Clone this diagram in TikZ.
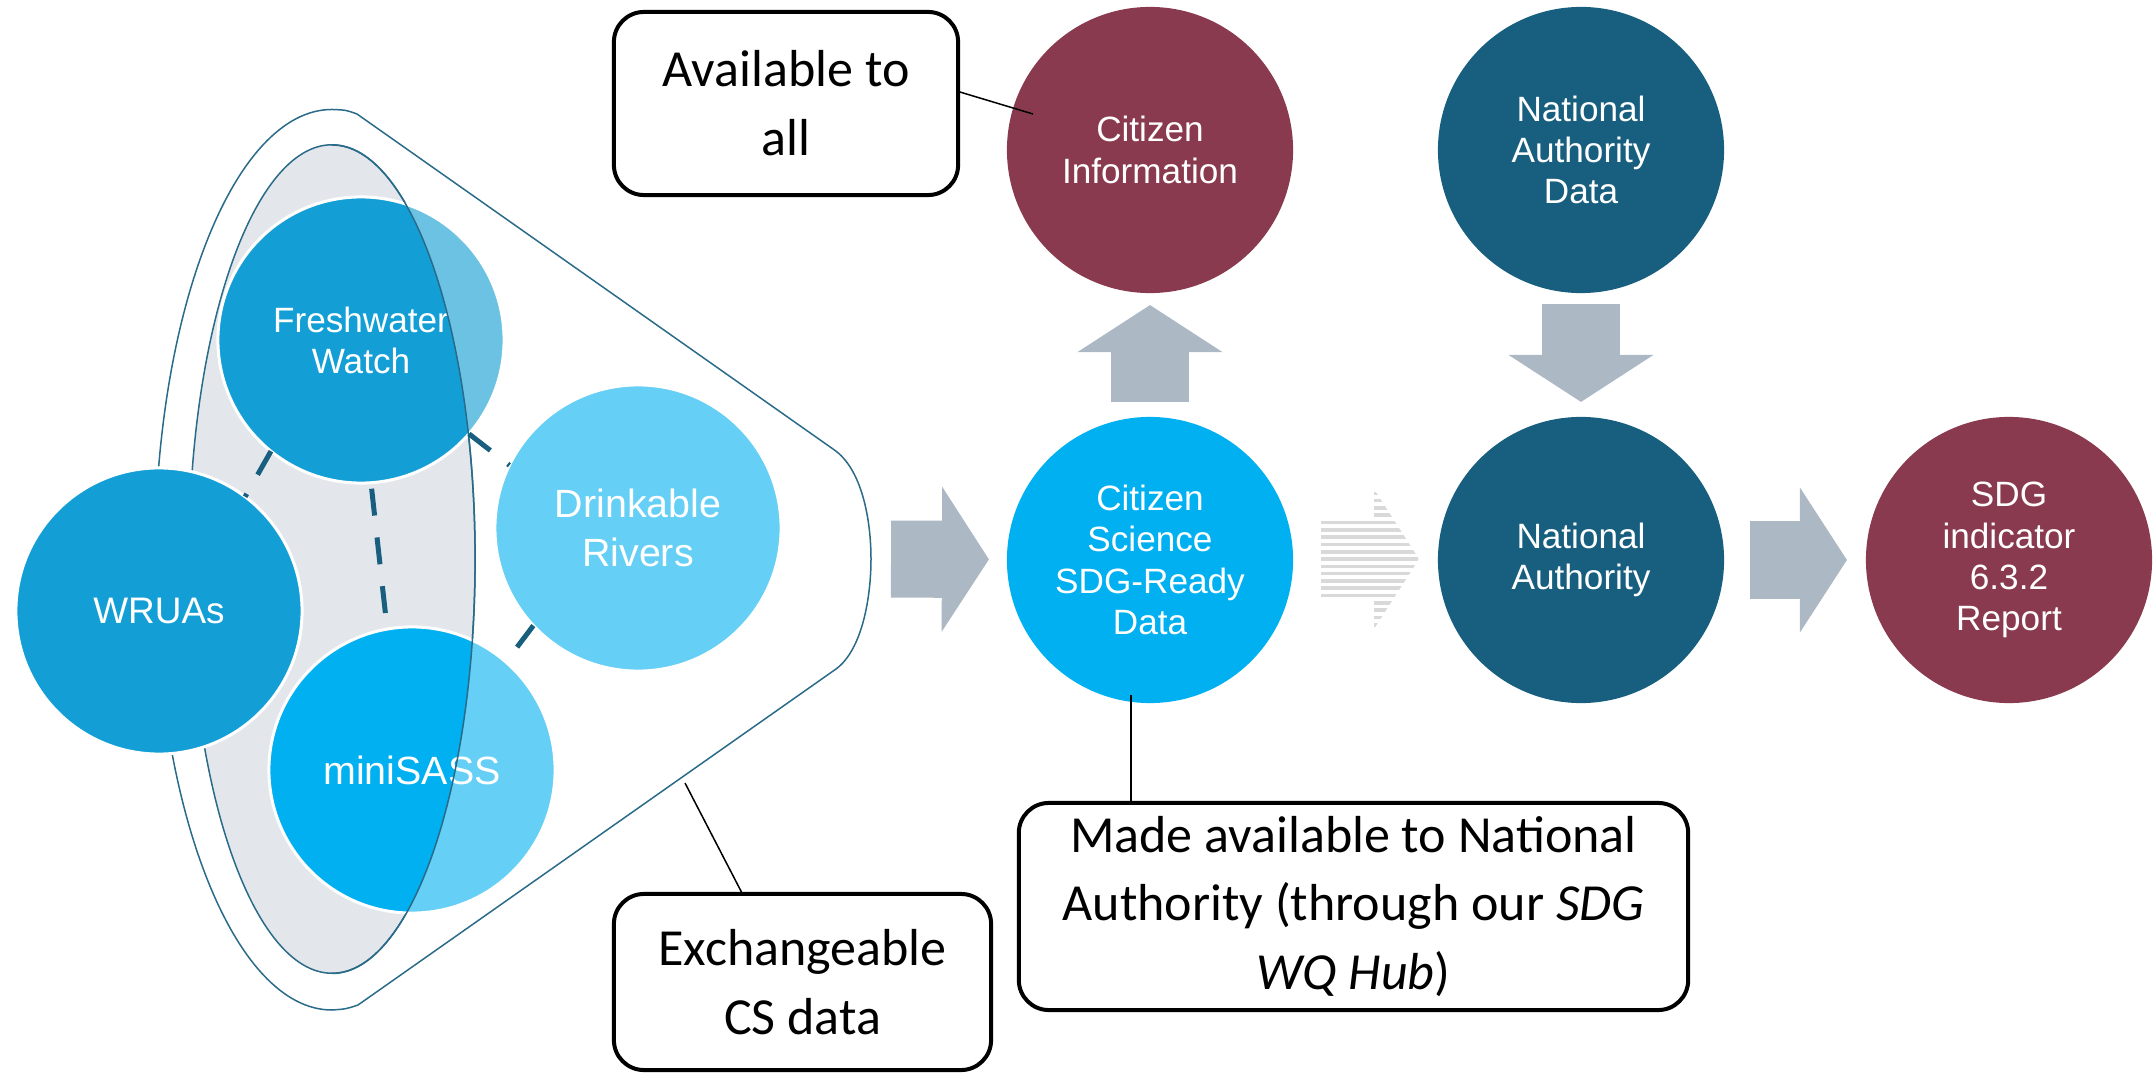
\documentclass[tikz,border=0pt]{standalone}
\usepackage{fontspec}
\setmainfont{Carlito}
\newfontfamily\circfont{Liberation Sans}
\usetikzlibrary{arrows.meta,calc}

\definecolor{fwblue}{HTML}{139FD6}
\definecolor{fwpale}{HTML}{6CC2E3}
\definecolor{cyanblue}{HTML}{00B0F0}
\definecolor{skyblue}{HTML}{66CFF5}
\definecolor{wine}{HTML}{8A3A4E}
\definecolor{petrol}{HTML}{185F7F}
\definecolor{zonegray}{HTML}{E3E7EB}
\definecolor{zoneline}{HTML}{2A6B8A}
\definecolor{arrowgray}{HTML}{ADB8C5}
\definecolor{stripegray}{HTML}{D9D9D9}

\begin{document}
\begin{tikzpicture}[
    x=0.01cm, y=-0.01cm,
    every node/.style={outer sep=0pt},
    circ/.style={circle,minimum size=2.86cm,inner sep=0pt,align=center,text=white,
        font=\circfont\fontsize{10}{11.7}\selectfont},
    group/.style={circ,draw=white,line width=0.03cm},
    big/.style={font=\circfont\fontsize{11.2}{13.9}\selectfont},
    zone/.style={path picture={\fill[#1] (zc) ellipse [x radius=1.43cm,y radius=4.14cm];}},
    link/.style={draw=petrol,line width=0.05cm,dash pattern=on 0.27cm off 0.22cm},
    bigarrow/.style={draw=arrowgray,line width=0.77cm,
        -{Triangle[length=0.47cm,width=1.45cm,line width=0pt]}},
    callbox/.style={draw,line width=0.04cm,rounded corners=0.3cm,inner sep=0pt,align=center,
        font=\fontsize{14.8}{19.6}\selectfont},
    pin/.style={draw,line width=0.015cm}
]

\useasboundingbox (0,0) rectangle (2154,1073);

% funnel round the CS groups
\coordinate (zc) at (332,559);
\draw[zoneline,line width=0.015cm] (357,114) -- (833,449)
    .. controls (862,468) and (871,520) .. (871,559)
    .. controls (871,598) and (862,650) .. (836,669) -- (358,1005)
    .. controls (346,1009) .. (332,1010)
    arc[start angle=-90,end angle=-270,x radius=1.77cm,y radius=4.5cm]
    .. controls (346,110) .. (357,114) -- cycle;
\draw[fill=zonegray,draw=zoneline,line width=0.015cm] (zc) ellipse [x radius=1.43cm,y radius=4.14cm];

\node[group,fill=fwblue,font=\circfont\fontsize{10.5}{12}\selectfont] (wruas) at (159,611) {WRUAs};
\node[group,big,fill=skyblue] (drink) at (638,528) {Drinkable\\Rivers};
\node[group,fill=fwpale,zone=fwblue] (fresh) at (361,340) {Freshwater\\Watch};
\node[group,big,fill=skyblue,zone=cyanblue] (minisass) at (412,770) {miniSASS};

\draw[zoneline,line width=0.015cm] (332,145) arc[start angle=90,end angle=-90,x radius=1.43cm,y radius=4.14cm];

\draw[link] (fresh.-129) -- (wruas.53);
\draw[link,shorten <=0.06cm] (fresh.-86) -- (minisass.100);
\draw[link] (fresh.-41) -- (drink.154);
\draw[link] (drink.-137) -- (minisass.49);

% flow to the report
\coordinate (funR) at (871,559);
\node[circ,fill=cyanblue] (csdata) at (1150,560) {Citizen\\Science\\SDG-Ready\\Data};
\node[circ,fill=wine] (citinfo) at (1150,150) {Citizen\\Information};
\node[circ,fill=petrol] (natauth) at (1581,560) {National\\Authority};
\node[circ,fill=petrol] (nadata) at (1581,150) {National\\Authority\\Data};
\node[circ,fill=wine] (sdgrep) at (2009,560) {SDG\\indicator\\6.3.2\\Report};

\draw[bigarrow,shorten <=0.2cm,shorten >=0.18cm] (funR) -- (csdata);
\draw[bigarrow,shorten <=0.15cm,shorten >=0.12cm] (csdata) -- (citinfo);
\draw[bigarrow,shorten <=0.11cm,shorten >=0.15cm] (nadata) -- (natauth);
\draw[bigarrow,shorten <=0.26cm,shorten >=0.19cm] (natauth) -- (sdgrep);

\begin{scope}[shift={(1321,559)}]
  \clip (0,-38) -- (53,-38) -- (53,-70) -- (98,0) -- (53,70) -- (53,38) -- (0,38) -- cycle;
  \foreach \k in {-10,...,10}
    \draw[stripegray,line width=0.036cm] (0,\k*7.3) -- (98,\k*7.3);
\end{scope}

% callouts
\node[callbox,minimum width=3.44cm,minimum height=1.83cm] (avail) at (786,103.5) {Available to\\all};
\node[callbox,minimum width=6.69cm,minimum height=2.07cm] (made) at (1353.5,906.5)
    {Made available to National\\Authority (through our \textit{SDG}\\\textit{WQ Hub})};
\node[callbox,minimum width=3.77cm,minimum height=1.76cm] (exch) at (802.5,982) {Exchangeable\\CS data};

\coordinate (infoPin) at (1033,114);
\coordinate (dataPin) at (1131,695);
\coordinate (funPin) at (685,783);
\draw[pin] (avail.4) -- (infoPin);
\draw[pin] (dataPin) -- (dataPin |- made.north);
\draw[pin] (funPin) -- ([xshift=-0.6cm]exch.north);

\end{tikzpicture}
\end{document}
